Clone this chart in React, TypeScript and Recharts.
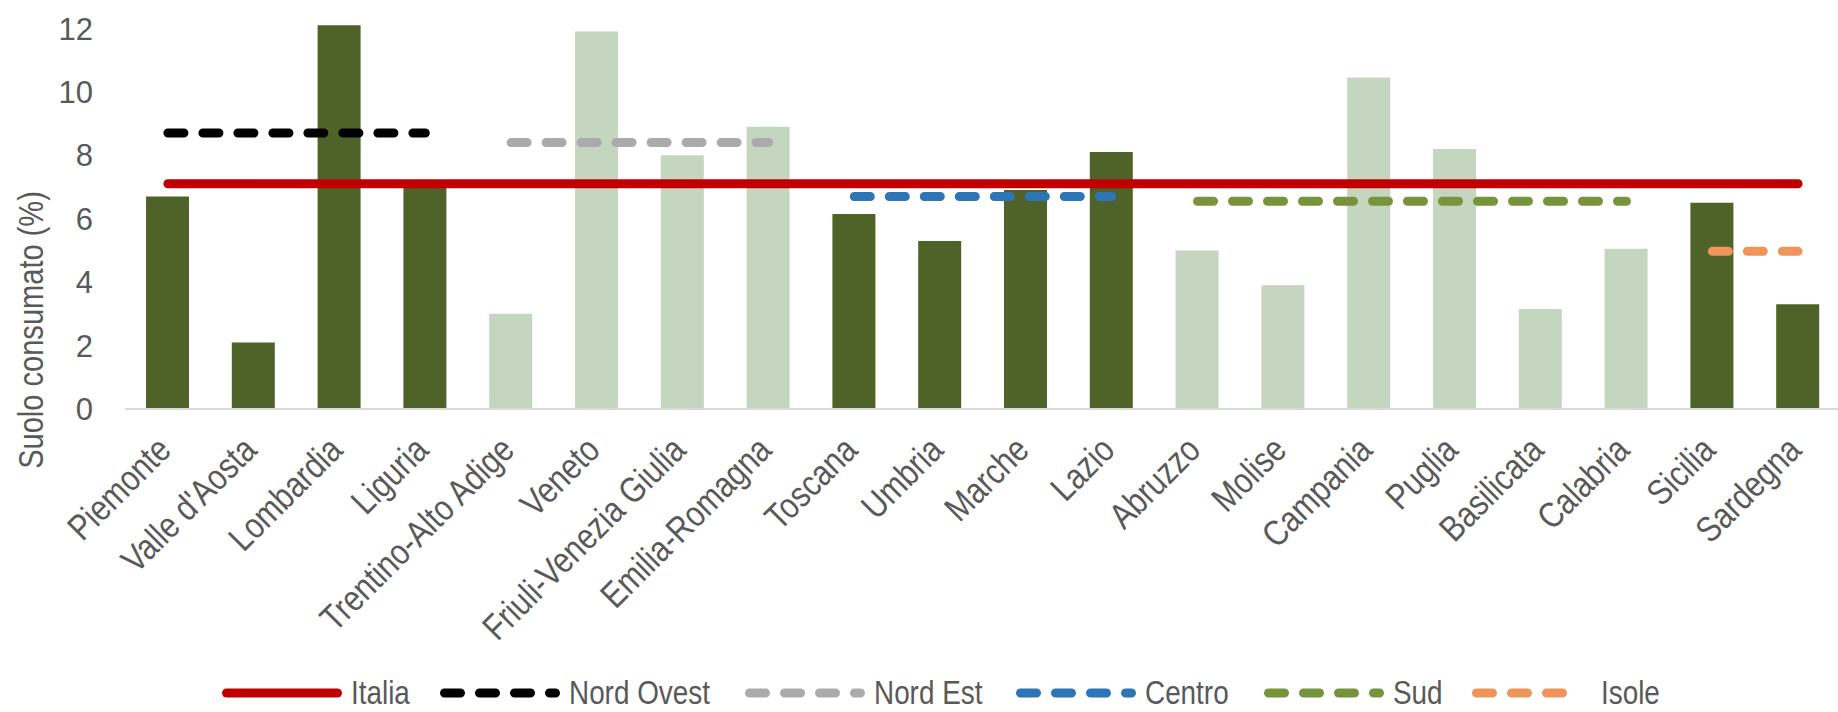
import { ComposedChart, Bar, Line, Cell, XAxis, YAxis, Legend } from "recharts";

const regions = [
  "Piemonte", "Valle d'Aosta", "Lombardia", "Liguria", "Trentino-Alto Adige", "Veneto",
  "Friuli-Venezia Giulia", "Emilia-Romagna", "Toscana", "Umbria", "Marche", "Lazio",
  "Abruzzo", "Molise", "Campania", "Puglia", "Basilicata", "Calabria", "Sicilia", "Sardegna",
];
const suoloConsumato = [6.7, 2.1, 12.1, 7.1, 3.0, 11.9, 8.0, 8.9, 6.15, 5.3, 6.9, 8.1, 5.0, 3.9, 10.45, 8.2, 3.15, 5.05, 6.5, 3.3];
// dark bars: Nord Ovest, Centro, Isole
const darkBar = [true, true, true, true, false, false, false, false, true, true, true, true, false, false, false, false, false, false, true, true];

const italia = [7.1, 7.1, 7.1, 7.1, 7.1, 7.1, 7.1, 7.1, 7.1, 7.1, 7.1, 7.1, 7.1, 7.1, 7.1, 7.1, 7.1, 7.1, 7.1, 7.1];
const nordOvest = [8.7, 8.7, 8.7, 8.7, null, null, null, null, null, null, null, null, null, null, null, null, null, null, null, null];
const nordEst = [null, null, null, null, 8.4, 8.4, 8.4, 8.4, null, null, null, null, null, null, null, null, null, null, null, null];
const centro = [null, null, null, null, null, null, null, null, 6.7, 6.7, 6.7, 6.7, null, null, null, null, null, null, null, null];
const sud = [null, null, null, null, null, null, null, null, null, null, null, null, 6.55, 6.55, 6.55, 6.55, 6.55, 6.55, null, null];
const isole = [null, null, null, null, null, null, null, null, null, null, null, null, null, null, null, null, null, null, 4.97, 4.97];

const yTicks = [0, 2, 4, 6, 8, 10, 12];

const series = [
  { key: "italia", name: "Italia", color: "#C00000", dash: undefined, textW: 58 },
  { key: "nordOvest", name: "Nord Ovest", color: "#000000", dash: "16 19", textW: 145 },
  { key: "nordEst", name: "Nord Est", color: "#ABABAB", dash: "16 19", textW: 111 },
  { key: "centro", name: "Centro", color: "#2E75B6", dash: "16 19", textW: 88 },
  { key: "sud", name: "Sud", color: "#77933C", dash: "16 19", textW: 48 },
  { key: "isole", name: "Isole", color: "#F0955A", dash: "16 19", textW: 57 },
];

const rows = regions.map((name, i) => ({
  name,
  value: suoloConsumato[i],
  italia: italia[i],
  nordOvest: nordOvest[i],
  nordEst: nordEst[i],
  centro: centro[i],
  sud: sud[i],
  isole: isole[i],
}));

const FONT = "'Liberation Sans', Arial, sans-serif";
const TEXT = "#595959";
const LEGEND_TOP = 668;
const LEGEND_H = 44;

// the source uses a narrow face; squeeze Liberation Sans horizontally instead
const XTick = ({ x, payload }: any) => (
  <g transform={`translate(${x + 5},452)`}>
    <text textAnchor="end" transform="rotate(-45) scale(0.84,1)" fontSize={36} fill={TEXT} fontFamily={FONT}>
      {payload.value}
    </text>
  </g>
);

const YTick = ({ y, payload }: any) => (
  <text x={93} y={y} dy="0.36em" textAnchor="end" fontSize={31} fill={TEXT} fontFamily={FONT}>
    {payload.value}
  </text>
);

const YTitle = () => (
  <text transform="translate(43,330) rotate(-90) scale(0.83,1)" textAnchor="middle" fontSize={35} fill={TEXT} fontFamily={FONT}>
    Suolo consumato (%)
  </text>
);

const LegendContent = () => {
  let cursor = 222;
  const items = series.map((s) => {
    const x0 = cursor;
    cursor += 129 + s.textW + 31;
    return (
      <g key={s.key}>
        <line
          x1={x0 + 4.5}
          x2={x0 + (s.key === "isole" ? 98 : 115.5)}
          y1={25}
          y2={25}
          stroke={s.color}
          strokeWidth={9}
          strokeLinecap="round"
          strokeDasharray={s.dash}
        />
        <text transform={`translate(${x0 + 129},36) scale(0.82,1)`} fontSize={34} fill={TEXT} fontFamily={FONT}>
          {s.name}
        </text>
      </g>
    );
  });
  return (
    <svg width={1838} height={LEGEND_H} style={{ display: "block" }}>
      {items}
    </svg>
  );
};

export default function App() {
  // the plot area runs a few pixels past the right edge of the picture, as in the source
  return (
    <div style={{ position: "fixed", left: 0, top: 0, width: 1838, height: 712, overflow: "hidden", background: "#fff" }}>
      <ComposedChart width={1841} height={712} data={rows} margin={{ top: 22, right: 0, bottom: 0, left: 0 }}>
        <XAxis
          dataKey="name"
          interval={0}
          tickLine={false}
          axisLine={{ stroke: "#D9D9D9", strokeWidth: 2 }}
          height={712 - 409 - LEGEND_H}
          tick={<XTick />}
        />
        <YAxis
          width={125}
          domain={[0, 12.2]}
          ticks={yTicks}
          allowDataOverflow
          tickLine={false}
          axisLine={false}
          tick={<YTick />}
          label={<YTitle />}
        />
        <Legend
          content={<LegendContent />}
          wrapperStyle={{ top: LEGEND_TOP, bottom: "auto", left: 0, width: 1838, height: LEGEND_H }}
        />
        <Bar dataKey="value" barSize={43} isAnimationActive={false} legendType="none">
          {rows.map((r, i) => (
            <Cell key={r.name} fill={darkBar[i] ? "#4F6228" : "#C4D6C0"} />
          ))}
        </Bar>
        {series.map((s) => (
          <Line
            key={s.key}
            dataKey={s.key}
            name={s.name}
            type="linear"
            stroke={s.color}
            strokeWidth={9}
            strokeLinecap="round"
            strokeDasharray={s.dash}
            dot={false}
            activeDot={false}
            connectNulls={false}
            isAnimationActive={false}
          />
        ))}
      </ComposedChart>
    </div>
  );
}
